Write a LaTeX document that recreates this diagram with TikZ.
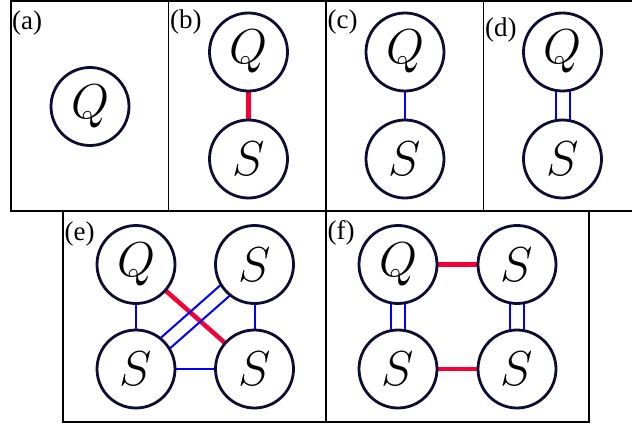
\documentclass[tikz,border=0pt]{standalone}
\usepackage{fix-cm}
\usepackage{fontspec}
\newfontfamily\labfont{Liberation Serif}
\usetikzlibrary{calc,backgrounds}
\definecolor{nodecol}{RGB}{12,12,52}
\definecolor{redline}{RGB}{245,0,55}
\definecolor{blueline}{RGB}{0,0,255}
\tikzset{
  vert/.style={circle, draw=nodecol, line width=2.8pt, fill=white, minimum size=78pt, inner sep=0pt, font=\fontsize{49}{50}\selectfont},
  redl/.style={draw=redline, line width=4.5pt},
  bluel/.style={draw=blueline, line width=2pt},
  panel/.style={draw=black, line width=1.7pt},
  lab/.style={anchor=base west, inner sep=0pt, font=\labfont\fontsize{27}{28}\selectfont}
}
\newcommand\dblline[2]{%
  \draw[bluel] ($(#1)!7pt!90:(#2)$) -- ($(#2)!7pt!-90:(#1)$);
  \draw[bluel] ($(#1)!7pt!-90:(#2)$) -- ($(#2)!7pt!90:(#1)$);}
\begin{document}
\begin{tikzpicture}[x=1pt,y=-1pt]
\useasboundingbox (0,0) rectangle (632,425);
% panels
\draw[panel] (11,1) rectangle (168.5,211);
\draw[panel] (168.5,1) rectangle (326,211);
\draw[panel] (326,1) rectangle (483.5,211);
\draw[panel] (636,1) -- (483.5,1) -- (483.5,211) -- (636,211);
\draw[panel] (63,211) rectangle (326,422);
\draw[panel] (326,211) rectangle (589,422);
% labels
\node[lab] (la) at (12,29.5) {(a)};
\node[lab] (lb) at (170,28.5) {(b)};
\node[lab] (lc) at (327.5,29) {(c)};
\node[lab] (ld) at (485,37) {(d)};
\node[lab] (le) at (64.5,240) {(e)};
\node[lab] (lf) at (327.5,239) {(f)};
% nodes
\node[vert] (aq) at (90,106.5) {$Q$};
\node[vert] (bq) at (248.5,52) {$Q$};
\node[vert] (bs) at (248.5,159) {$S$};
\node[vert] (cq) at (405,52) {$Q$};
\node[vert] (cs) at (405,159) {$S$};
\node[vert] (dq) at (562.5,52) {$Q$};
\node[vert] (ds) at (562.5,159) {$S$};
\node[vert] (eq) at (136,264.5) {$Q$};
\node[vert] (es1) at (254.5,264.5) {$S$};
\node[vert] (es2) at (136,369) {$S$};
\node[vert] (es3) at (254.5,369) {$S$};
\node[vert] (fq) at (398,264.5) {$Q$};
\node[vert] (fs1) at (517,264.5) {$S$};
\node[vert] (fs2) at (398,369) {$S$};
\node[vert] (fs3) at (517,369) {$S$};
% edges
\begin{pgfonlayer}{background}
\draw[redl] (bq) -- (bs);
\draw[bluel] (cq) -- (cs);
\dblline{dq}{ds}
\draw[redl] (eq.center) -- (es3.center);
\draw[bluel] (eq) -- (es2);
\draw[bluel] (es1) -- (es3);
\draw[bluel] (es2) -- (es3);
\dblline{es2}{es1}
\draw[redl] (fq) -- (fs1);
\draw[redl] (fs2) -- (fs3);
\dblline{fq}{fs2}
\dblline{fs1}{fs3}
\end{pgfonlayer}
\end{tikzpicture}
\end{document}
